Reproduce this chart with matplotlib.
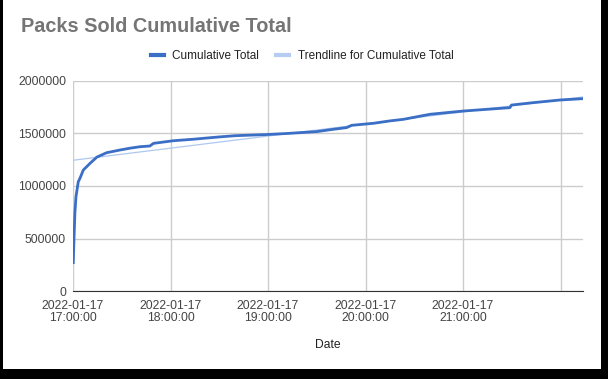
import matplotlib
matplotlib.use('Agg')
import matplotlib.pyplot as plt
import pandas as pd
from matplotlib.lines import Line2D
from matplotlib.patches import Rectangle

plt.rcParams['font.family'] = ['Liberation Sans', 'DejaVu Sans']

day = '2022-01-17'

# cumulative packs sold
times = ['17:00:10', '17:00:40', '17:01:10', '17:01:50', '17:03:15', '17:04:20',
         '17:06:20', '17:10:30', '17:14:40', '17:20:40', '17:29:00', '17:35:00',
         '17:41:10', '17:47:20', '17:49:30', '18:01:40', '18:13:50', '18:22:20',
         '18:30:30', '18:39:40', '18:59:10', '19:11:30', '19:19:40', '19:30:00',
         '19:40:10', '19:48:20', '19:51:30', '20:04:50', '20:15:00', '20:23:20',
         '20:39:40', '21:00:10', '21:28:50', '21:29:50', '21:43:20', '21:59:40',
         '22:13:50']
totals = [270000, 520000, 743000, 898000, 1041000, 1075000,
          1152000, 1216000, 1275000, 1317000, 1343000, 1360000,
          1374000, 1381000, 1406000, 1431000, 1445000, 1457000,
          1468000, 1479000, 1490000, 1500000, 1508000, 1518000,
          1540000, 1556000, 1578000, 1597000, 1620000, 1635000,
          1683000, 1714000, 1746000, 1771000, 1794000, 1819000,
          1832000]

trend_times = ['17:00:00', '22:13:50']
trend_values = [1245000, 1848000]

tick_times = ['17:00:00', '18:00:00', '19:00:00', '20:00:00', '21:00:00', '22:00:00']
tick_labels = ['2022-01-17\n17:00:00', '2022-01-17\n18:00:00', '2022-01-17\n19:00:00',
               '2022-01-17\n20:00:00', '2022-01-17\n21:00:00', '']
y_ticks = [0, 500000, 1000000, 1500000, 2000000]


def to_dates(ts):
    return pd.to_datetime([day + ' ' + t for t in ts])


x = to_dates(times)
xt = to_dates(trend_times)
xticks = to_dates(tick_times)

W, H = 608, 379
fig = plt.figure(figsize=(W / 100, H / 100), dpi=100, facecolor='black')
fig.add_artist(Rectangle((3 / W, 10 / H), 598 / W, 1 - 10 / H, transform=fig.transFigure,
                         facecolor='white', edgecolor='none', zorder=0))

ax = fig.add_axes([73 / W, 1 - 291 / H, 510 / W, 210 / H])
ax.set_facecolor('white')

ax.plot(xt, trend_values, color='#aec8f0', lw=0.9, zorder=2)
ax.plot(x, totals, color='#3b6fc6', lw=2.0, zorder=3, solid_joinstyle='round')

ax.set_xlim(to_dates(['17:00:00'])[0], x[-1])
ax.set_ylim(0, 2000000)
ax.set_yticks(y_ticks)
ax.set_yticklabels([str(v) for v in y_ticks])
ax.set_xticks(xticks)
ax.set_xticklabels(tick_labels, linespacing=0.95)
ax.grid(True, color='#cccccc', lw=1)
ax.set_axisbelow(True)
for s in ['top', 'right', 'left']:
    ax.spines[s].set_visible(False)
ax.spines['bottom'].set_color('#333333')
ax.tick_params(length=0, labelsize=8.7, colors='#444444')
ax.tick_params(axis='x', pad=6.5)
ax.tick_params(axis='y', pad=5)

fig.text(21 / W, 1 - 26.5 / H, 'Packs Sold Cumulative Total', fontsize=14.3,
         fontweight='bold', color='#757575', va='center', ha='left')
fig.text(328 / W, 1 - 344.5 / H, 'Date', fontsize=8.7, color='#222222',
         ha='center', va='center')

handles = [Line2D([], [], color='#3b6fc6', lw=3),
           Line2D([], [], color='#b5cdf2', lw=3)]
fig.legend(handles, ['Cumulative Total', 'Trendline for Cumulative Total'],
           loc='center', bbox_to_anchor=(302 / W, 1 - 56 / H), ncol=2, frameon=False,
           fontsize=8.5, handlelength=1.1, handletextpad=0.75, columnspacing=1.4,
           labelcolor='#222222')

fig.savefig('out.png', dpi=100, facecolor='black')
